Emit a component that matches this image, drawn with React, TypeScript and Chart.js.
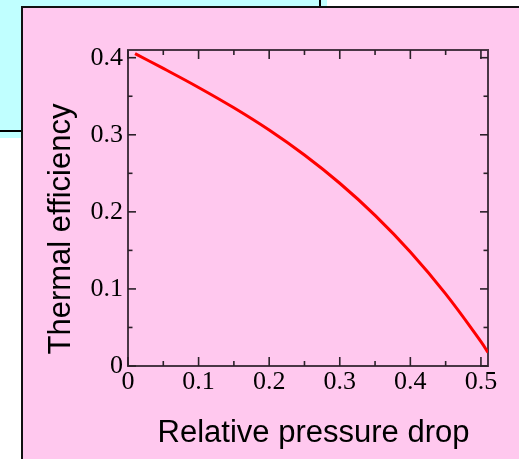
import React, { useEffect, useRef } from 'react';
import { Chart, registerables } from 'chart.js';

Chart.register(...registerables);

// ---- data ----
const X_VALUES = [0.01, 0.05, 0.1, 0.15, 0.2, 0.25, 0.3, 0.35, 0.4, 0.45, 0.5, 0.51];
const Y_VALUES = [0.4053, 0.3861, 0.3614, 0.335, 0.3061, 0.2737, 0.2371, 0.1955, 0.148, 0.0936, 0.0317, 0.0175];

const X_MAJOR_TICKS = [0, 0.1, 0.2, 0.3, 0.4, 0.5];
const X_MINOR_TICKS = [0.05, 0.15, 0.25, 0.35, 0.45];
const Y_MAJOR_TICKS = [0, 0.1, 0.2, 0.3, 0.4];
const Y_MINOR_TICKS = [0.05, 0.15, 0.25, 0.35];
const X_TICK_LABELS = ['0', '0.1', '0.2', '0.3', '0.4', '0.5'];
const Y_TICK_LABELS = ['0', '0.1', '0.2', '0.3', '0.4'];

const X_TITLE = 'Relative pressure drop';
const Y_TITLE = 'Thermal efficiency';

const X_MIN = 0;
const X_MAX = 0.51;
const Y_MIN = 0;
const Y_MAX = 0.41;

// ---- styles ----
const W = 519;
const H = 459;
const PINK = '#ffc8ee';
const CYAN = '#c0ffff';
const AXIS_COLOR = '#4a3645';
const TICK_FONT = 'Liberation Serif';
const TITLE_FONT = 'Liberation Sans';

const frameAndTitles = {
  id: 'frameAndTitles',
  beforeDatasetsDraw(chart: any) {
    const { ctx, chartArea, scales } = chart;
    const { left, right, top, bottom } = chartArea;
    const xs = scales.x;
    const ys = scales.y;
    ctx.save();
    ctx.strokeStyle = AXIS_COLOR;
    ctx.lineWidth = 2;
    ctx.strokeRect(left, top, right - left, bottom - top);
    ctx.lineWidth = 1.6;
    ctx.strokeStyle = '#2a2028';
    const seg = (x1: number, y1: number, x2: number, y2: number) => {
      ctx.beginPath();
      ctx.moveTo(x1, y1);
      ctx.lineTo(x2, y2);
      ctx.stroke();
    };
    const xTick = (v: number, len: number) => {
      const px = xs.getPixelForValue(v);
      seg(px, bottom, px, bottom - len);
      seg(px, top, px, top + len);
    };
    const yTick = (v: number, len: number) => {
      const py = ys.getPixelForValue(v);
      seg(left, py, left + len, py);
      seg(right, py, right - len, py);
    };
    X_MAJOR_TICKS.forEach((v) => xTick(v, 9));
    X_MINOR_TICKS.forEach((v) => xTick(v, 5));
    Y_MAJOR_TICKS.forEach((v) => yTick(v, 8));
    Y_MINOR_TICKS.forEach((v) => yTick(v, 4.5));
    ctx.restore();
  },
  afterDraw(chart: any) {
    const { ctx } = chart;
    ctx.save();
    ctx.fillStyle = '#000';
    ctx.font = `31px "${TITLE_FONT}"`;
    ctx.textAlign = 'center';
    ctx.textBaseline = 'alphabetic';
    ctx.fillText(X_TITLE, 313.5, 442);
    ctx.translate(70, 229);
    ctx.rotate(-Math.PI / 2);
    ctx.fillText(Y_TITLE, 0, 0);
    ctx.restore();
  },
};

export default function App() {
  const canvasRef = useRef<HTMLCanvasElement | null>(null);

  useEffect(() => {
    const canvas = canvasRef.current;
    if (!canvas) return;
    const chart = new Chart(canvas, {
      type: 'scatter',
      data: {
        datasets: [
          {
            data: X_VALUES.map((x, i) => ({ x, y: Y_VALUES[i] })),
            showLine: true,
            borderColor: '#ff0000',
            borderWidth: 3,
            pointRadius: 0,
            tension: 0.4,
            fill: false,
          } as any,
        ],
      },
      options: {
        responsive: false,
        animation: false,
        events: [],
        layout: { padding: { top: 50, right: 31, left: 0, bottom: 0 } },
        plugins: { legend: { display: false }, tooltip: { enabled: false }, title: { display: false } },
        scales: {
          x: {
            type: 'linear',
            position: 'bottom',
            min: X_MIN,
            max: X_MAX,
            grid: { display: false, drawTicks: false },
            border: { display: false },
            afterBuildTicks: (scale: any) => {
              scale.ticks = X_MAJOR_TICKS.map((v) => ({ value: v }));
            },
            afterFit: (scale: any) => {
              scale.height = H - 366;
            },
            ticks: {
              autoSkip: false,
              maxRotation: 0,
              padding: 1,
              color: '#000',
              font: { family: TICK_FONT, size: 26 },
              callback: (_v: any, i: number) => X_TICK_LABELS[i],
            },
          },
          y: {
            type: 'linear',
            position: 'left',
            min: Y_MIN,
            max: Y_MAX,
            grid: { display: false, drawTicks: false },
            border: { display: false },
            afterBuildTicks: (scale: any) => {
              scale.ticks = Y_MAJOR_TICKS.map((v) => ({ value: v }));
            },
            afterFit: (scale: any) => {
              scale.width = 128;
            },
            ticks: {
              autoSkip: false,
              padding: 5,
              color: '#000',
              font: { family: TICK_FONT, size: 26 },
              callback: (_v: any, i: number) => Y_TICK_LABELS[i],
            },
          },
        },
      },
      plugins: [frameAndTitles],
    });
    return () => chart.destroy();
  }, []);

  return (
    <div style={{ position: 'absolute', left: 0, top: 0, width: W, height: H, background: '#fff', overflow: 'hidden' }}>
      <div style={{ position: 'absolute', left: 0, top: 0, width: 327, height: 138, background: CYAN }} />
      <div
        style={{
          position: 'absolute',
          left: 0,
          top: 0,
          width: 321,
          height: 132,
          boxSizing: 'border-box',
          borderRight: '2px solid #000',
          borderBottom: '2px solid #000',
        }}
      />
      <div
        style={{
          position: 'absolute',
          left: 21,
          top: 6,
          width: W - 21,
          height: H - 6,
          boxSizing: 'border-box',
          background: PINK,
          borderLeft: '2px solid #111',
          borderTop: '2px solid #111',
        }}
      />
      <canvas ref={canvasRef} width={W} height={H} style={{ position: 'absolute', left: 0, top: 0, width: W, height: H }} />
    </div>
  );
}
